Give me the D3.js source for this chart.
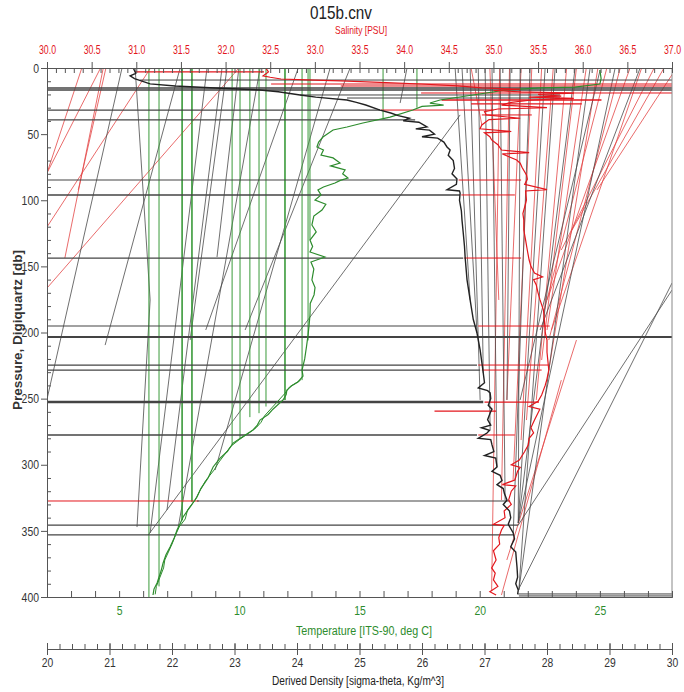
<!DOCTYPE html>
<html>
<head>
<meta charset="utf-8">
<script src="https://cdn.jsdelivr.net/npm/d3@7"></script>
<style>
  body { margin: 0; background: #fff; }
  text { font-family: "Liberation Sans Narrow", "Arial Narrow", "Liberation Sans", Arial, sans-serif; }
</style>
</head>
<body>
<div id="vis"></div>
<script>
// axis tick labels
const pressureTicks = [0, 50, 100, 150, 200, 250, 300, 350, 400];
const salinityTicks = [30.0, 30.5, 31.0, 31.5, 32.0, 32.5, 33.0, 33.5, 34.0, 34.5, 35.0, 35.5, 36.0, 36.5, 37.0];
const temperatureTicks = [5, 10, 15, 20, 25];
const densityTicks = [20, 21, 22, 23, 24, 25, 26, 27, 28, 29, 30];

// profiles: [pressure, value]
const temperatureProfile = [[1.5,25.0],[8,25.05],[12.1,25.0],[14.4,23.96],[15.1,22.51],[16.6,21.13],[20.4,19.72],[24.2,18.35],[26.5,17.93],[28,18.5],[29,17.6],[31.8,17.22],[37.1,16.27],[41.6,15.14],[44.6,14.48],[46.9,13.9],[52.2,13.48],[56,13.3],[59.7,13.23],[62,13.5],[65.8,13.4],[68,13.9],[71.8,14.19],[74,13.8],[77.1,14.4],[80,14.3],[83.2,14.52],[85,14.2],[87,13.98],[90,13.5],[92.2,13.27],[96,13.4],[99.8,13.15],[103,13.6],[107.4,13.44],[112,13.1],[118.7,13.02],[124,13.2],[130.1,12.94],[135,13.05],[139.1,12.94],[142.9,13.56],[146.7,12.98],[152,13.1],[160.3,13.02],[166,13.15],[171.6,13.11],[178,12.95],[186.8,12.94],[195,12.9],[201.9,12.86],[210,12.8],[220,12.72],[228.4,12.61],[233,12.65],[237.4,12.44],[240,12.2],[243.5,11.98],[247,11.95],[251,11.82],[258,11.4],[262,11.2],[266.2,10.86],[270,10.75],[273.7,10.57],[278,10.2],[283.6,9.74],[290,9.5],[295,9.2],[301.7,8.91],[310,8.7],[318,8.4],[324.4,8.24],[332,7.95],[339.5,7.66],[344,7.55],[349.3,7.41],[355,7.3],[362.2,7.12],[368,6.95],[374.3,6.83],[380,6.75],[389.4,6.58],[394,6.45],[398.5,6.41]];
const temperatureUpcast = [[236,12.55],[241,12.1],[246,11.9],[252,11.6],[257,11.35],[263,11.05],[268,10.9],[272,10.7],[276,10.4],[281,10.0],[286,9.65],[292,9.4],[298,9.15],[304,8.95],[312,8.6],[320,8.35],[327,8.15],[334,7.85],[341,7.75],[347,7.5],[353,7.35],[360,7.2],[366,7.05],[372,6.9],[378,6.85],[385,6.7],[392,6.55],[398,6.5]];
const salinityProfile = [[0,32.45],[3,32.48],[6,32.42],[7,32.5],[8.3,32.62],[9,32.9],[9.8,33.29],[11,33.8],[12.1,34.19],[13.5,34.6],[15.1,34.87],[16,35.3],[17,35.0],[18.1,35.31],[19,35.9],[20,35.5],[21.2,35.76],[22,35.4],[23,35.9],[24.2,35.43],[26,35.2],[28,35.09],[30,35.6],[31,35.05],[33,34.9],[35.5,34.92],[38,35.3],[39,34.95],[43.1,34.87],[46,34.85],[48,35.2],[49,34.9],[52,34.96],[54.4,34.98],[58,35.05],[62,35.09],[64,35.4],[65,35.1],[69.6,35.26],[72,35.3],[75,35.32],[80.9,35.37],[84,35.38],[88,35.35],[92,35.6],[93,35.36],[99.8,35.37],[105,35.35],[110,35.33],[115,35.34],[122.5,35.34],[130,35.36],[138,35.38],[145.2,35.40],[150,35.42],[155,35.46],[158,35.55],[160,35.45],[164.1,35.48],[170,35.5],[175,35.52],[183,35.56],[190,35.57],[200,35.58],[205.7,35.6],[215,35.6],[228.4,35.62],[235,35.6],[240,35.58],[247.3,35.54],[252,35.5],[256,35.4],[258,35.52],[266.2,35.46],[272,35.42],[276,35.45],[280,35.4],[285.1,35.39],[290,35.35],[296.4,35.29],[300,35.2],[302,35.3],[305,35.27],[311.5,35.24],[315,35.1],[316,35.25],[320,35.2],[326.7,35.17],[330,35.2],[335,35.12],[340,35.13],[345,35.0],[346,35.12],[349.3,35.09],[355,35.06],[360,35.07],[365,35.0],[372,35.03],[378,34.98],[382,35.02],[387.1,35.0],[392,35.05],[396,34.96],[398.5,35.03]];
const densityProfile = [[0,21.38],[4,21.42],[6,21.33],[8,21.40],[12,21.65],[13.6,22.05],[15.1,22.69],[16.6,23.41],[18,23.7],[20.4,24.05],[22,24.3],[24.2,24.8],[26,24.95],[28,25.1],[31.8,25.33],[34,25.5],[36,25.62],[38,25.8],[40,25.7],[41,25.95],[44.6,26.08],[46,25.9],[47,26.12],[50,26.2],[52,26.0],[53,26.25],[56,26.35],[59.7,26.4],[62,26.45],[66,26.42],[70,26.5],[76,26.52],[80,26.48],[84,26.56],[88,26.55],[92,26.4],[93,26.6],[94.5,26.61],[100,26.6],[108,26.63],[115,26.64],[124.8,26.66],[135,26.68],[142.9,26.69],[160,26.72],[175.4,26.77],[190,26.82],[200.4,26.88],[213.2,26.93],[220,26.95],[230.6,26.98],[238,27.0],[242,26.9],[244,27.05],[245.7,27.09],[250,27.1],[255,27.06],[258,27.12],[260.9,27.09],[266,27.05],[270,27.1],[272,26.95],[274,27.08],[276,27.04],[280,26.9],[281,27.1],[285,27.12],[290,27.15],[293,27.0],[295,27.18],[301.7,27.2],[305,27.12],[308,27.25],[312,27.28],[315,27.2],[318,27.3],[322,27.32],[326.7,27.36],[330,27.3],[335,27.4],[340,27.42],[345,27.38],[351.6,27.46],[356,27.48],[362,27.42],[366,27.5],[372,27.51],[377.3,27.52],[385,27.53],[390,27.5],[394.7,27.54],[398,27.53]];

// spikes: vertical temperature lines [temperature, pressure bottom, width]
const temperatureVerticals = [[6.24,400,1],[6.66,392,1],[7.62,342,1.6],[8.03,328,1.6],[9.7,285,1],[10.03,280,1],[10.44,264,1],[10.82,261,1],[11.11,256,1],[11.9,251,1.6],[12.61,236,1],[12.86,206,1],[12.94,130,1],[15.98,38,1],[17.39,30,1]];
// sloped spikes [v1, p1, v2, p2]
const densitySlants = [[21.2,0,20,250.4],[21.41,0,21.65,175.4],[21.65,175.4,21.44,347.1],[22.13,0,20.93,209.5],[22.56,0,21.65,351.6],[22.8,0,21.92,334.2],[22.88,0,22.29,205.7],[23.07,0,22.72,142.9],[23.41,0,22.1,347.1],[24.02,0,22.54,198.1],[24.53,0,22.69,304],[24.85,0,23.17,198.1],[26.61,35.5,21.62,353.1],[25.76,0,25.65,26.5],
  [26.53,0,26.77,175.4],[26.64,0,26.88,200.4],[26.77,0,26.93,251],[26.9,0,26.98,230.6],[27.01,0,27.09,273.7],[27.12,0,27.2,301.7],[27.25,0,27.33,326.7],[27.41,0,27.36,251],[27.57,0,27.54,344],[27.73,0,27.46,351.6],[27.97,0,27.54,344],[28.13,0,27.55,394.7],[28.45,0,27.54,344],[28.69,0,27.55,394.7],[29.09,0,27.54,344],[30,162.6,27.54,394.7],[30,167.9,27.54,345.6],[28.85,1.5,27.57,251],[29.49,0,27.89,198.1]];
const salinitySlants = [[30.39,0,30,79.4],[30.6,0,30,79.4],[30.63,0,30.2,143.7],[30.66,0,30.35,92.2],[32.15,0,30,166.4],[31.16,0,30,120.2],
  [34.75,0,34.87,43.1],[34.96,0,35.06,175.4],[35.07,0,34.98,394.7],[35.18,0,35.09,326.7],[35.31,0,35.15,251],[35.43,0,35.22,311.5],[35.54,0,35.31,281.3],[35.67,0,35.37,266.2],[35.82,0,35.48,251],[35.93,0,35.54,220.8],[36.04,0,35.6,198.1],[36.17,0,35.62,228.4],[36.27,0,35.57,183],[36.42,0,35.62,205.7],[36.53,0,35.6,175.4],[36.66,0,35.65,198.1],[36.8,0,35.76,137.6],[36.91,0,35.88,122.5],[37.02,3,36.16,92.2],[35.76,236,35.09,398.5],[35.93,205.7,35.15,372]];
// level spikes [pressure, v1, v2, width]
const densityLevels = [[9.1,21.49,30,1],[15.1,20,30,1.6],[16.6,20,30,1.6],[20.4,24.05,28.21,1],[22.7,24.8,28.21,1],[31.8,20,25.33,1.2],[39.3,20,25.89,1.2],[84.7,20,26.56,1.2],[96,20,26.61,1.4],[143.7,20,26.66,1.2],[195.1,20,26.88,1.2],[203.4,20,30,1.8],[224.6,20,26.88,1.2],[228.4,20,26.93,1.2],[252.6,20,26.98,2.6],[277.5,20,26.88,1.4],[327.4,22.4,27.41,1.2],[345.6,20,27.54,1.2],[353.1,20,27.46,1.2],[397.7,27.54,30,1],[399.2,27.55,30,1]];
const salinityLevels = [[3,30.99,32.43,1.2],[12.1,32.51,37.02,1],[13.6,33.29,37.02,1],[18.9,34.19,37.02,1],[24.2,34.42,36.21,1.5],[27.2,34.75,35.99,1.2],[31.8,33.74,35.0,1],[35.5,34.87,35.43,1],[84.7,34.61,35.31,1],[96,34.64,35.24,1],[143.7,34.67,35.31,1],[195.1,34.83,35.63,1],[224.6,34.83,35.62,1],[228.4,34.87,35.54,1],[252.6,34.9,35.51,1.2],[259.4,34.34,35.03,1.2],[277.5,34.83,35.24,1],[327.4,30,31.7,1]];

const W = 684, H = 692;
const pl = 47, pr = 672, pt = 68, pb = 597;
const red = "#e3161c", green = "#2d8c2d", dark = "#222";

const svg = d3.select("#vis").append("svg").attr("width", W).attr("height", H);

const y = d3.scaleLinear().domain([0, 400]).range([pt, pb]);
const xSal = d3.scaleLinear().domain([30, 37]).range([pl, pr]);
const xTemp = d3.scaleLinear().domain([2, 28]).range([pl, pr]);
const xDen = d3.scaleLinear().domain([20, 30]).range([pl, pr]);

svg.append("clipPath").attr("id", "plot")
  .append("rect").attr("x", pl).attr("y", pt).attr("width", pr - pl).attr("height", pb - pt);

const g = svg.append("g").attr("clip-path", "url(#plot)");

// sloped spikes
function slants(data, x, color, w) {
  g.append("g").selectAll("line").data(data).join("line")
    .attr("x1", d => x(d[0])).attr("y1", d => y(d[1]))
    .attr("x2", d => x(d[2])).attr("y2", d => y(d[3]))
    .attr("stroke", color).attr("stroke-width", w);
}
slants(salinitySlants, xSal, "#e34545", 0.8);
slants(densitySlants, xDen, "#4a4a4a", 0.8);

g.append("g").selectAll("line").data(temperatureVerticals).join("line")
  .attr("x1", d => xTemp(d[0])).attr("x2", d => xTemp(d[0]))
  .attr("y1", y(0)).attr("y2", d => y(d[1]))
  .attr("stroke", "#3a9a3a").attr("stroke-width", d => d[2]);

function levels(data, x, color) {
  g.append("g").selectAll("line").data(data).join("line")
    .attr("x1", d => x(d[1])).attr("x2", d => x(d[2]))
    .attr("y1", d => y(d[0])).attr("y2", d => y(d[0]))
    .attr("stroke", color).attr("stroke-width", d => d[3]);
}
levels(salinityLevels, xSal, red);
levels(densityLevels, xDen, "#444");

// profiles
function profile(data, x, color, w) {
  g.append("path").datum(data)
    .attr("d", d3.line().x(d => x(d[1])).y(d => y(d[0])))
    .attr("fill", "none").attr("stroke", color).attr("stroke-width", w);
}
profile(temperatureProfile, xTemp, green, 1.2);
profile(temperatureUpcast, xTemp, green, 1);
profile(salinityProfile, xSal, red, 1.2);
profile(densityProfile, xDen, dark, 1.4);

// frame
const axisColor = "#555";
svg.append("line").attr("x1", pr).attr("x2", pr).attr("y1", pt).attr("y2", pb)
  .attr("stroke", "#888").attr("stroke-width", 1);

// left pressure axis
const pAxis = svg.append("g").attr("transform", `translate(${pl},0)`)
  .call(d3.axisLeft(y).tickValues(pressureTicks).tickSize(6).tickPadding(2));
svg.append("g").attr("transform", `translate(${pl},0)`)
  .call(d3.axisRight(y).tickValues(d3.range(10, 400, 10).filter(v => v % 50)).tickSize(4).tickFormat(""));

// top salinity axis
const sAxis = svg.append("g").attr("transform", `translate(0,${pt})`)
  .call(d3.axisTop(xSal).tickValues(salinityTicks).tickSize(6).tickPadding(8).tickFormat(d3.format(".1f")));
svg.append("g").attr("transform", `translate(0,${pt})`)
  .call(d3.axisBottom(xSal).tickValues(d3.range(30, 37.001, 0.1)).tickSize(5).tickFormat(""));

// bottom temperature axis
svg.append("g").attr("transform", `translate(0,${pb})`)
  .call(d3.axisTop(xTemp).tickValues(d3.range(3, 28, 1)).tickSize(6).tickFormat(""));
const tAxis = svg.append("g").attr("transform", `translate(0,${pb})`)
  .call(d3.axisBottom(xTemp).tickValues(temperatureTicks).tickSize(0).tickPadding(9));

// density axis
const denY = 649;
const dAxis = svg.append("g").attr("transform", `translate(0,${denY})`)
  .call(d3.axisBottom(xDen).tickValues(densityTicks).tickSize(6).tickPadding(3));
svg.append("g").attr("transform", `translate(0,${denY})`)
  .call(d3.axisTop(xDen).tickValues(d3.range(20, 30.001, 0.2)).tickSize(5).tickFormat(""));
svg.append("g").attr("transform", `translate(0,${denY})`)
  .call(d3.axisTop(xDen).tickValues(densityTicks).tickSize(6).tickFormat(""));

svg.selectAll(".domain").attr("stroke", axisColor);
svg.selectAll(".tick line").attr("stroke", axisColor);
svg.selectAll(".tick text").attr("font-size", 13)
  .style("font-family", '"Liberation Sans Narrow", "Arial Narrow", "Liberation Sans", Arial, sans-serif');
pAxis.selectAll("text").attr("fill", "#333")
  .attr("textLength", d => String(d).length * 5.8).attr("lengthAdjust", "spacingAndGlyphs");
sAxis.selectAll("text").attr("fill", red)
  .attr("textLength", 17).attr("lengthAdjust", "spacingAndGlyphs");
tAxis.selectAll("text").attr("fill", green)
  .attr("textLength", d => String(d).length * 5.8).attr("lengthAdjust", "spacingAndGlyphs");
dAxis.selectAll("text").attr("fill", "#333")
  .attr("textLength", 11.5).attr("lengthAdjust", "spacingAndGlyphs");

// titles
function title(x, yy, size, color, txt, len) {
  return svg.append("text").attr("x", x).attr("y", yy).attr("text-anchor", "middle")
    .attr("font-size", size).attr("fill", color)
    .attr("textLength", len).attr("lengthAdjust", "spacingAndGlyphs").text(txt);
}
title(341, 19, 18, "#222", "015b.cnv", 62);
title(361, 34, 11, red, "Salinity [PSU]", 52);
title(364, 635, 12, green, "Temperature [ITS-90, deg C]", 136);
title(358, 685, 12, "#222", "Derived Density [sigma-theta, Kg/m^3]", 172);
svg.append("text").attr("transform", "translate(22,330) rotate(-90)").attr("text-anchor", "middle")
  .attr("font-size", 13).attr("font-weight", "bold").attr("fill", "#333")
  .attr("textLength", 160).attr("lengthAdjust", "spacingAndGlyphs").text("Pressure, Digiquartz [db]");
</script>
</body>
</html>
